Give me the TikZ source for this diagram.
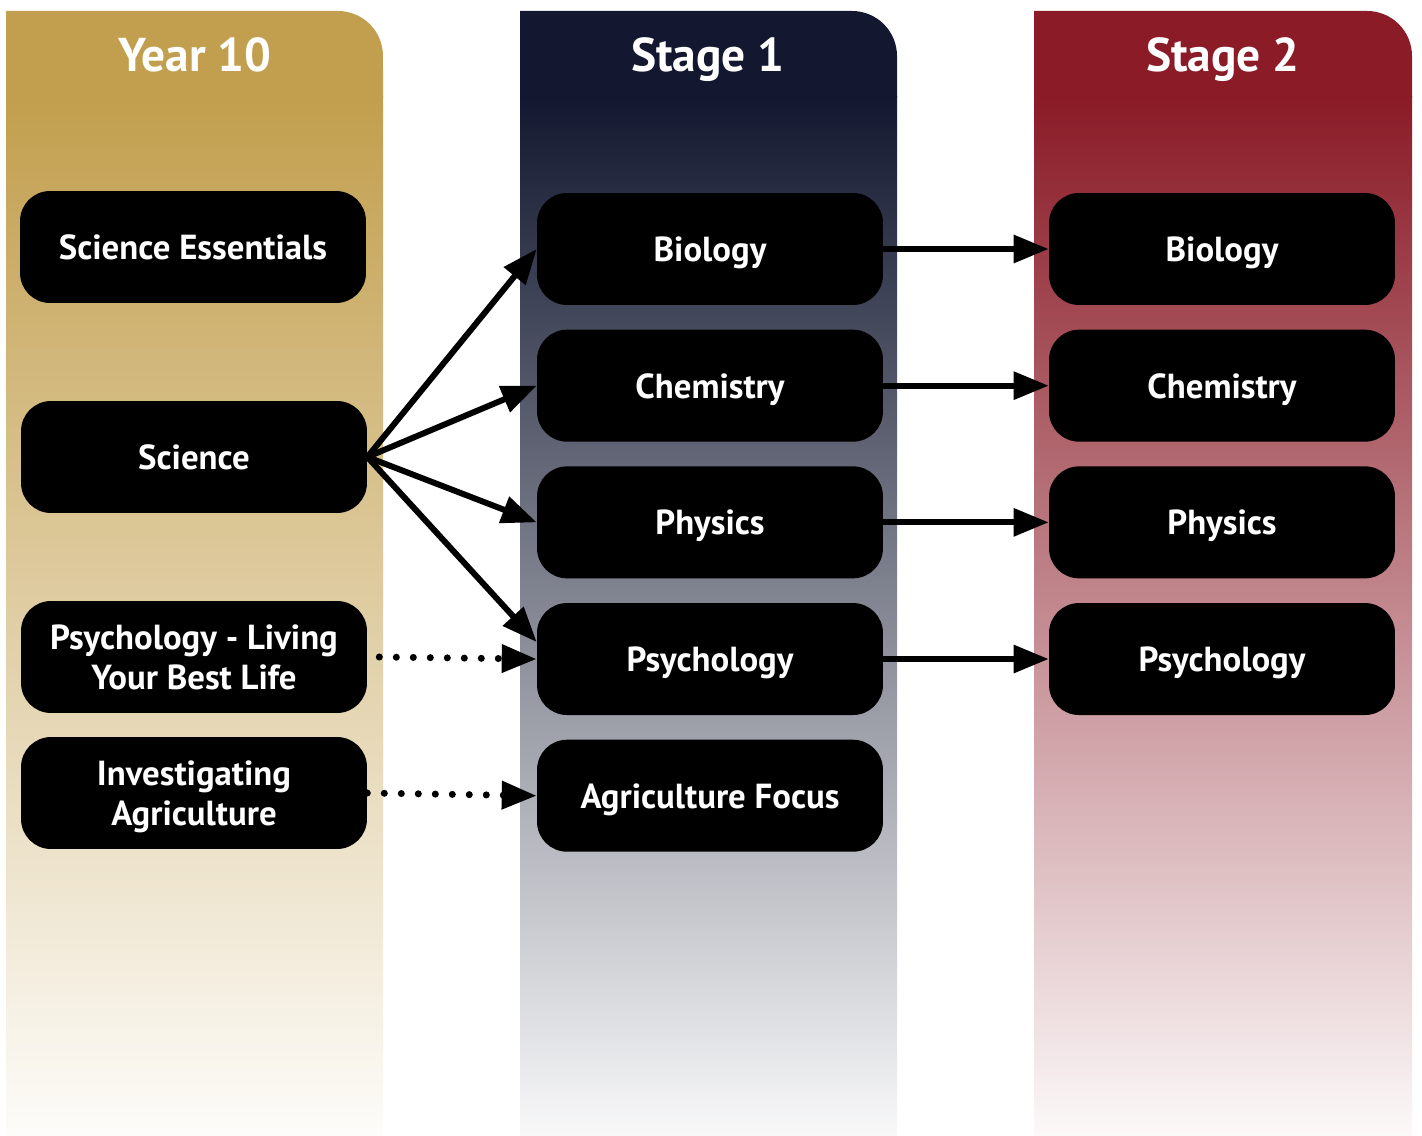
\documentclass[tikz,border=0pt]{standalone}
\usepackage{fontspec}
\setmainfont{PT Sans}
\usetikzlibrary{positioning,arrows.meta}

\definecolor{yeargold}{HTML}{C29F4E}
\definecolor{stagenavy}{HTML}{131830}
\definecolor{stagered}{HTML}{8A1B27}

\begin{document}
\begin{tikzpicture}
[ x=0.02cm, y=-0.02cm
, every node/.style={text=white, font=\bfseries\fontsize{19.8}{22.7}\selectfont}
, course/.style={fill=black, rounded corners=0.6cm, minimum width=6.92cm, minimum height=2.24cm, align=center, text depth=0pt}
, title/.style={anchor=base, font=\bfseries\fontsize{27}{30}\selectfont}
, link/.style={line width=3.4pt, -{Triangle[length=0.7cm,width=0.54cm]}}
, maybe/.style={link, line width=4pt, line cap=round, dash pattern=on 0pt off 0.34cm}
, node distance=0.48cm
]

\useasboundingbox (0,0) rectangle (1422,1135);

% columns
\fill[yeargold] (6,98) -- (6,11) -- (338,11) arc[start angle=90, end angle=0, radius=0.9cm] -- (383,98) -- cycle;
\shade[top color=yeargold, bottom color=yeargold!3] (6,97) rectangle (383,1135);
\fill[stagenavy] (520,98) -- (520,11) -- (852,11) arc[start angle=90, end angle=0, radius=0.9cm] -- (897,98) -- cycle;
\shade[top color=stagenavy, bottom color=stagenavy!3] (520,97) rectangle (897,1135);
\fill[stagered] (1034,98) -- (1034,11) -- (1367,11) arc[start angle=90, end angle=0, radius=0.9cm] -- (1412,98) -- cycle;
\shade[top color=stagered, bottom color=stagered!3] (1034,97) rectangle (1412,1135);

\node[title] (y10) at (195,72) {Year 10};
\node[title] (s1)  at (708,72) {Stage 1};
\node[title] (s2)  at (1223,72) {Stage 2};

% year 10
\node[course] (y10ess) at (193,247) {Science Essentials};
\node[course] (y10sci) at (194,457) {Science};
\node[course] (y10psy) at (194,657) {Psychology - Living\\Your Best Life};
\node[course] (y10agr) at (194,793) {Investigating\\Agriculture};

% stage 1
\node[course] (s1bio) at (710,249) {Biology};
\node[course, below=of s1bio]  (s1chem) {Chemistry};
\node[course, below=of s1chem] (s1phy)  {Physics};
\node[course, below=of s1phy]  (s1psy)  {Psychology};
\node[course, below=of s1psy]  (s1agr)  {Agriculture Focus};

% stage 2
\node[course] (s2bio) at (1222,249) {Biology};
\node[course, below=of s2bio]  (s2chem) {Chemistry};
\node[course, below=of s2chem] (s2phy)  {Physics};
\node[course, below=of s2phy]  (s2psy)  {Psychology};

\draw[link] (y10sci.east) -- (s1bio.west);
\draw[link] (y10sci.east) -- (s1chem.west);
\draw[link] (y10sci.east) -- (s1phy.west);
\draw[link] (y10sci.east) -- ([yshift=0.34cm]s1psy.west);
\draw[maybe] ([xshift=0.24cm]y10psy.east) -- (s1psy.west);
\draw[maybe] (y10agr.east) -- (s1agr.west);

\draw[link] (s1bio.east)  -- (s2bio.west);
\draw[link] (s1chem.east) -- (s2chem.west);
\draw[link] (s1phy.east)  -- (s2phy.west);
\draw[link] (s1psy.east)  -- (s2psy.west);

\end{tikzpicture}
\end{document}
